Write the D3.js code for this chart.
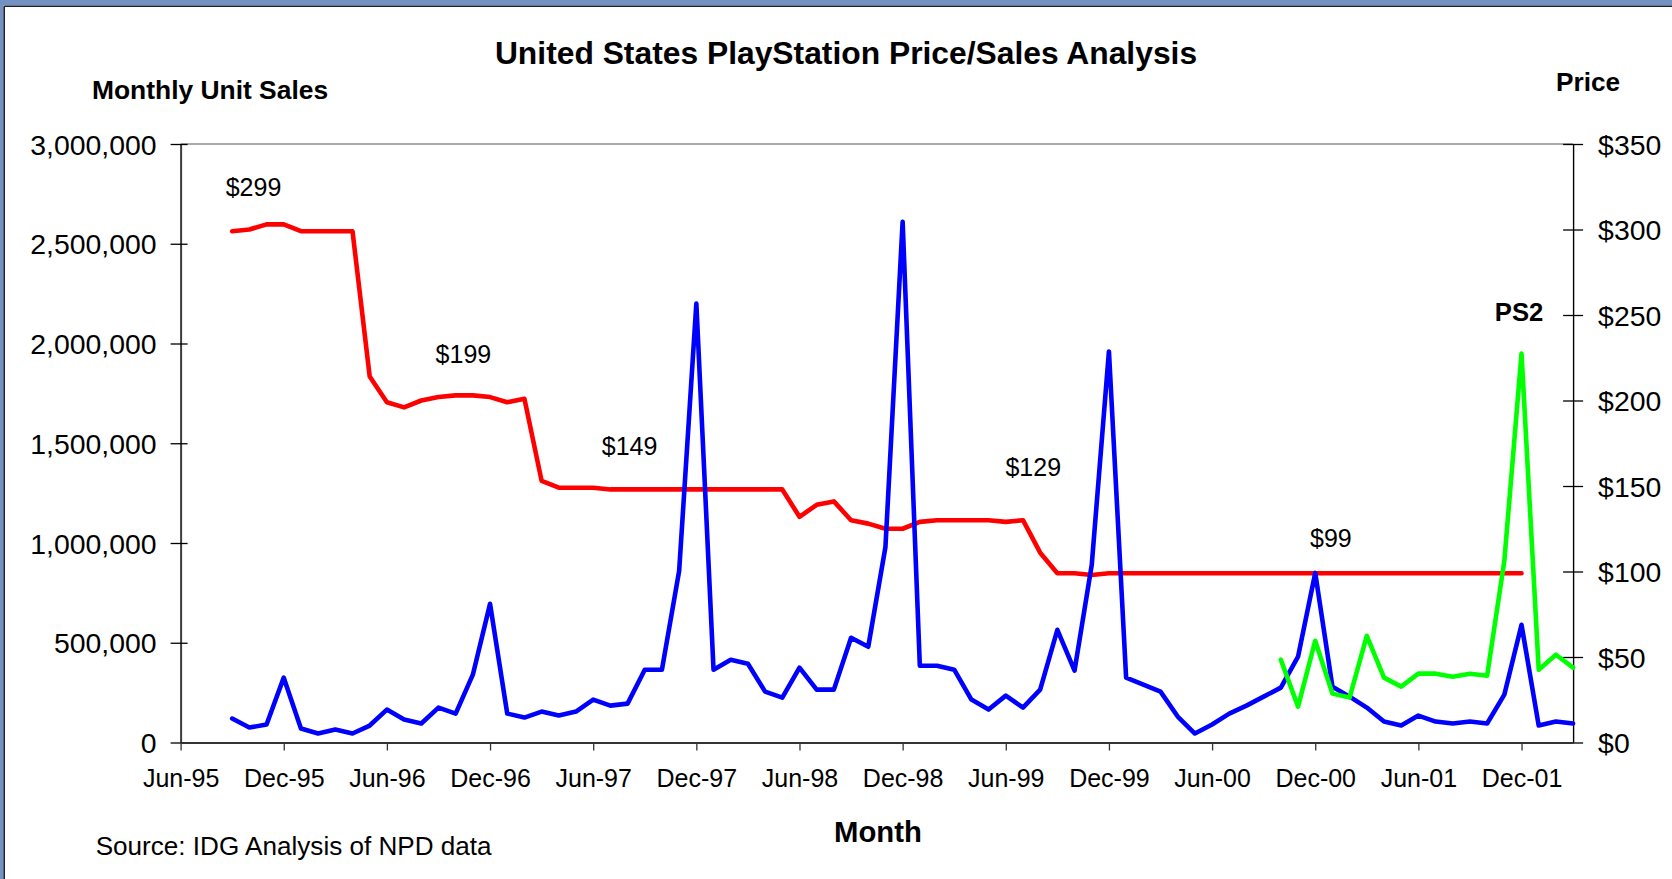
<!DOCTYPE html>
<html>
<head>
<meta charset="utf-8">
<script src="https://cdn.jsdelivr.net/npm/d3@7"></script>
<style>
  html, body { margin: 0; padding: 0; background: #fff; }
  svg { display: block; font-family: "Liberation Sans", Arial, sans-serif; }
</style>
</head>
<body>
<svg id="chart" width="1672" height="879"></svg>
<script>
// ---------- data ----------
const months = [
  "Jun-95","Jul-95","Aug-95","Sep-95","Oct-95","Nov-95","Dec-95",
  "Jan-96","Feb-96","Mar-96","Apr-96","May-96","Jun-96","Jul-96","Aug-96","Sep-96","Oct-96","Nov-96","Dec-96",
  "Jan-97","Feb-97","Mar-97","Apr-97","May-97","Jun-97","Jul-97","Aug-97","Sep-97","Oct-97","Nov-97","Dec-97",
  "Jan-98","Feb-98","Mar-98","Apr-98","May-98","Jun-98","Jul-98","Aug-98","Sep-98","Oct-98","Nov-98","Dec-98",
  "Jan-99","Feb-99","Mar-99","Apr-99","May-99","Jun-99","Jul-99","Aug-99","Sep-99","Oct-99","Nov-99","Dec-99",
  "Jan-00","Feb-00","Mar-00","Apr-00","May-00","Jun-00","Jul-00","Aug-00","Sep-00","Oct-00","Nov-00","Dec-00",
  "Jan-01","Feb-01","Mar-01","Apr-01","May-01","Jun-01","Jul-01","Aug-01","Sep-01","Oct-01","Nov-01","Dec-01",
  "Jan-02","Feb-02","Mar-02"
];
const tickMonths = ["Jun-95","Dec-95","Jun-96","Dec-96","Jun-97","Dec-97","Jun-98","Dec-98","Jun-99","Dec-99","Jun-00","Dec-00","Jun-01","Dec-01"];

// PlayStation monthly unit sales, Sep-95 .. Mar-02
const psSalesStart = "Sep-95";
const psSales = [
  120000, 75000, 90000, 325000,
  70000, 45000, 65000, 45000, 85000, 165000, 115000, 95000, 175000, 145000, 340000, 695000,
  145000, 125000, 155000, 135000, 155000, 215000, 185000, 195000, 365000, 365000, 860000, 2200000,
  365000, 415000, 395000, 255000, 225000, 375000, 265000, 265000, 525000, 480000, 980000, 2610000,
  385000, 385000, 365000, 215000, 165000, 235000, 175000, 265000, 565000, 360000, 890000, 1960000,
  325000, 290000, 255000, 130000, 45000, 90000, 145000, 185000, 230000, 275000, 430000, 850000,
  280000, 230000, 175000, 105000, 85000, 135000, 105000, 95000, 105000, 95000, 240000, 590000,
  85000, 105000, 95000
];

// PlayStation price (US$), Sep-95 .. Dec-01
const psPriceStart = "Sep-95";
const psPrice = [
  299, 300, 303, 303,
  299, 299, 299, 299, 214, 199, 196, 200, 202, 203, 203, 202,
  199, 201, 153, 149, 149, 149, 148, 148, 148, 148, 148, 148,
  148, 148, 148, 148, 148, 132, 139, 141, 130, 128, 125, 125,
  129, 130, 130, 130, 130, 129, 130, 111, 99, 99, 98, 99,
  99, 99, 99, 99, 99, 99, 99, 99, 99, 99, 99, 99,
  99, 99, 99, 99, 99, 99, 99, 99, 99, 99, 99, 99
];

// PS2 monthly unit sales, Oct-00 .. Mar-02
const ps2SalesStart = "Oct-00";
const ps2Sales = [
  415000, 180000, 510000,
  245000, 225000, 535000, 325000, 280000, 345000, 345000, 330000, 345000, 335000, 910000, 1950000,
  365000, 440000, 375000
];

const salesTicks = [0, 500000, 1000000, 1500000, 2000000, 2500000, 3000000];
const priceTicks = [0, 50, 100, 150, 200, 250, 300, 350];

// price-point annotations, anchored in data space (month + fraction of a month, price level)
const priceLabels = [
  { text: "$299", month: "Oct-95", frac: 0.24, price: 319.5 },
  { text: "$199", month: "Oct-96", frac: 0.45, price: 222 },
  { text: "$149", month: "Aug-97", frac: 0.12, price: 168.2 },
  { text: "$129", month: "Jul-99", frac: 0.6,  price: 156 },
  { text: "$99",  month: "Jan-01", frac: -0.09, price: 114.3 }
];
const ps2Label = { text: "PS2", month: "Dec-01", frac: -0.14, value: 2113000 };

// ---------- layout ----------
const svg = d3.select("#chart");
const L = 180.6, R = 1573.1, T = 144, B = 742.5;
const FONT = '"Liberation Sans", Arial, sans-serif';

const x = d3.scalePoint().domain(months).range([L, R]).padding(0);
const yL = d3.scaleLinear().domain([0, 3000000]).range([B, T]);
const yR = d3.scaleLinear().domain([0, 350]).range([B, T]);
const xAt = (m, f) => x(m) + f * x.step();

function seriesFrom(start, values) {
  const s = months.indexOf(start);
  return values.map((v, k) => ({ m: months[s + k], v }));
}

// frame (blue border top/left)
svg.append("rect").attr("x", 0).attr("y", 0).attr("width", 1672).attr("height", 879).attr("fill", "#fff");
svg.append("rect").attr("x", 0).attr("y", 0).attr("width", 1672).attr("height", 5.5).attr("fill", "#7391c1");
svg.append("rect").attr("x", 0).attr("y", 0).attr("width", 3.5).attr("height", 879).attr("fill", "#7391c1");
svg.append("line").attr("x1", 4.2).attr("x2", 1672).attr("y1", 6.2).attr("y2", 6.2).attr("stroke", "#1c2230").attr("stroke-width", 1.6);
svg.append("line").attr("x1", 4.2).attr("x2", 4.2).attr("y1", 6.2).attr("y2", 879).attr("stroke", "#1c2230").attr("stroke-width", 1.6);

// plot top border
svg.append("line").attr("x1", L).attr("x2", R).attr("y1", T).attr("y2", T)
  .attr("stroke", "#8c8c8c").attr("stroke-width", 1.6);

// left axis
const gL = svg.append("g").attr("transform", `translate(${L},0)`)
  .call(d3.axisLeft(yL).tickValues(salesTicks).tickFormat(d3.format(",")).tickSizeInner(10).tickSizeOuter(0).tickPadding(14));
gL.select(".domain").attr("stroke", "#3c3c3c").attr("stroke-width", 2);
gL.selectAll(".tick line").attr("x1", -10).attr("x2", 7).attr("stroke", "#000").attr("stroke-width", 1.3);
gL.selectAll(".tick text").attr("font-family", FONT).attr("font-size", 28.4).attr("fill", "#000").attr("dy", "0.36em");

// right axis
const gR = svg.append("g").attr("transform", `translate(${R},0)`)
  .call(d3.axisRight(yR).tickValues(priceTicks).tickFormat(d => "$" + d).tickSizeInner(10).tickSizeOuter(0).tickPadding(14));
gR.select(".domain").attr("stroke", "#000").attr("stroke-width", 1.4);
gR.selectAll(".tick line").attr("x1", -10).attr("x2", 10).attr("stroke", "#000").attr("stroke-width", 1.3);
gR.selectAll(".tick text").attr("font-family", FONT).attr("font-size", 28.4).attr("fill", "#000").attr("dy", "0.36em").attr("x", 25);

// bottom axis
const gB = svg.append("g").attr("transform", `translate(0,${B})`)
  .call(d3.axisBottom(x).tickValues(tickMonths).tickSizeInner(8).tickSizeOuter(0).tickPadding(14));
gB.select(".domain").attr("stroke", "#333").attr("stroke-width", 2);
gB.selectAll(".tick line").attr("stroke", "#333").attr("stroke-width", 1.3);
gB.selectAll(".tick text").attr("font-family", FONT).attr("font-size", 25).attr("fill", "#000").attr("dy", "0.71em").attr("y", 27);

// lines
const lineL = d3.line().x(d => x(d.m)).y(d => yL(d.v));
const lineR = d3.line().x(d => x(d.m)).y(d => yR(d.v));

svg.append("path").datum(seriesFrom(psPriceStart, psPrice)).attr("d", lineR)
  .attr("fill", "none").attr("stroke", "#ff0000").attr("stroke-width", 4.6).attr("stroke-linejoin", "round").attr("stroke-linecap", "round");
svg.append("path").datum(seriesFrom(psSalesStart, psSales)).attr("d", lineL)
  .attr("fill", "none").attr("stroke", "#0000ff").attr("stroke-width", 4.6).attr("stroke-linejoin", "round").attr("stroke-linecap", "round");
svg.append("path").datum(seriesFrom(ps2SalesStart, ps2Sales)).attr("d", lineL)
  .attr("fill", "none").attr("stroke", "#00ff00").attr("stroke-width", 4.6).attr("stroke-linejoin", "round").attr("stroke-linecap", "round");

// price annotations
svg.selectAll("text.plabel").data(priceLabels).join("text").attr("class", "plabel")
  .attr("x", d => xAt(d.month, d.frac)).attr("y", d => yR(d.price))
  .attr("text-anchor", "middle")
  .attr("font-family", FONT).attr("font-size", 25).attr("fill", "#000")
  .text(d => d.text);

svg.append("text").attr("x", xAt(ps2Label.month, ps2Label.frac)).attr("y", yL(ps2Label.value))
  .attr("text-anchor", "middle").attr("font-family", FONT).attr("font-size", 25.7).attr("font-weight", "bold")
  .text(ps2Label.text);

// titles
svg.append("text").attr("x", 846).attr("y", 64).attr("text-anchor", "middle")
  .attr("font-family", FONT).attr("font-size", 31.8).attr("font-weight", "bold")
  .text("United States PlayStation Price/Sales Analysis");
svg.append("text").attr("x", 92).attr("y", 99)
  .attr("font-family", FONT).attr("font-size", 26.4).attr("font-weight", "bold")
  .text("Monthly Unit Sales");
svg.append("text").attr("x", 1556).attr("y", 91)
  .attr("font-family", FONT).attr("font-size", 26.2).attr("font-weight", "bold")
  .text("Price");
svg.append("text").attr("x", 878).attr("y", 842).attr("text-anchor", "middle")
  .attr("font-family", FONT).attr("font-size", 29.3).attr("font-weight", "bold")
  .text("Month");
svg.append("text").attr("x", 95.7).attr("y", 855)
  .attr("font-family", FONT).attr("font-size", 26.1)
  .text("Source: IDG Analysis of NPD data");
</script>
</body>
</html>
